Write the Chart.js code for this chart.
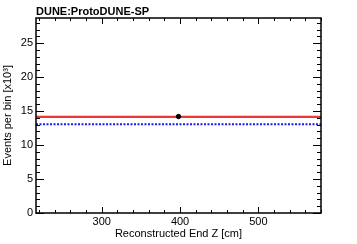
<!DOCTYPE html>
<html>
<head>
<meta charset="utf-8">
<script src="https://cdn.jsdelivr.net/npm/chart.js@4.4.1/dist/chart.umd.min.js"></script>
<style>
  html, body { margin: 0; padding: 0; background: #fff; }
  #wrap { width: 357px; height: 244px; position: relative; }
</style>
</head>
<body>
<div id="wrap"><canvas id="chart_endZ"></canvas></div>
<script>
// bin edges of the (single-bin) histogram, in cm
var binEdges = [216, 580];
// MC total prediction, events per bin [x10^3]
var mcTotal = [14.15];
// MC selected-signal prediction
var mcSignal = [13.05];
// data point (bin centre, value)
var dataX = [398];
var dataY = [14.2];

var xMajor = [300, 400, 500];
var yMajor = [0, 5, 10, 15, 20, 25];

function stepLine(edges, vals) {
    var pts = [];
    for (var i = 0; i < vals.length; i++) {
        pts.push({ x: edges[i], y: vals[i] });
        pts.push({ x: edges[i + 1], y: vals[i] });
    }
    return pts;
}

var FONT = 'Liberation Sans, Arial, Helvetica, sans-serif';

var chart_endZ = new Chart(document.getElementById('chart_endZ'), {
    type: 'line',
    data: {
        datasets: [
            {
                label: 'Data',
                type: 'scatter',
                data: dataX.map(function (x, i) { return { x: x, y: dataY[i] }; }),
                backgroundColor: '#000',
                borderColor: '#000',
                pointRadius: 2.2,
                pointStyle: 'circle',
                order: 0
            },
            {
                label: 'MC total',
                data: stepLine(binEdges, mcTotal),
                borderColor: '#ef3535',
                borderWidth: 2.2,
                pointRadius: 0,
                fill: false,
                order: 1
            },
            {
                label: 'MC signal',
                data: stepLine(binEdges, mcSignal),
                borderColor: '#1a1aff',
                borderWidth: 2,
                borderDash: [2, 1.5],
                pointRadius: 0,
                fill: false,
                order: 2
            }
        ]
    },
    options: {
        animation: false,
        responsive: true,
        maintainAspectRatio: false,
        layout: { padding: { top: 18, right: 36, left: 0, bottom: 0 } },
        plugins: {
            legend: { display: false },
            title: { display: false },
            tooltip: { enabled: false }
        },
        scales: {
            x: {
                type: 'linear',
                min: binEdges[0],
                max: binEdges[binEdges.length - 1],
                grid: { display: false, drawTicks: false, tickLength: 0 },
                border: { display: false },
                afterFit: function (s) { s.height = 31; },
                afterBuildTicks: function (s) { s.ticks = xMajor.map(function (v) { return { value: v }; }); },
                ticks: { color: '#000', font: { family: FONT, size: 11 }, padding: 2, maxRotation: 0 },
                title: {
                    display: true,
                    text: 'Reconstructed End Z [cm]',
                    color: '#000',
                    font: { family: FONT, size: 11 },
                    padding: { top: 0, bottom: 3 }
                }
            },
            y: {
                type: 'linear',
                min: 0,
                max: 28.7,
                grid: { display: false, drawTicks: false, tickLength: 0 },
                border: { display: false },
                afterFit: function (s) { s.width = 36; },
                afterBuildTicks: function (s) { s.ticks = yMajor.map(function (v) { return { value: v }; }); },
                ticks: { color: '#000', font: { family: FONT, size: 11 }, padding: 3 },
                title: {
                    display: true,
                    text: 'Events per bin [x10³]',
                    color: '#000',
                    font: { family: FONT, size: 11 },
                    padding: { top: 1, bottom: 0 }
                }
            }
        }
    },
    plugins: [{
        id: 'rootFrame',
        beforeDraw: function (chart) {
            var ctx = chart.ctx;
            ctx.save();
            ctx.fillStyle = 'white';
            ctx.fillRect(0, 0, chart.width, chart.height);
            ctx.restore();
        },
        afterDraw: function (chart) {
            var ctx = chart.ctx, a = chart.chartArea;
            var xs = chart.scales.x, ys = chart.scales.y;
            ctx.save();
            ctx.strokeStyle = '#000';
            ctx.lineWidth = 1;
            ctx.beginPath();
            // x ticks, bottom and top, inward
            for (var v = 220; v <= 580; v += 20) {
                var px = Math.round(xs.getPixelForValue(v)) + 0.5;
                var len = (v % 100 === 0) ? 6 : 3;
                ctx.moveTo(px, a.bottom); ctx.lineTo(px, a.bottom - len);
                ctx.moveTo(px, a.top); ctx.lineTo(px, a.top + len);
            }
            // y ticks, left and right, inward
            for (var w = 0; w <= 28; w += 1) {
                var py = Math.round(ys.getPixelForValue(w)) + 0.5;
                var l = (w % 5 === 0) ? 8 : 4;
                ctx.moveTo(a.left, py); ctx.lineTo(a.left + l, py);
                ctx.moveTo(a.right, py); ctx.lineTo(a.right - l, py);
            }
            ctx.stroke();
            ctx.lineWidth = 1.5;
            ctx.strokeRect(a.left, a.top, a.right - a.left, a.bottom - a.top);
            // plot label
            ctx.fillStyle = '#000';
            ctx.font = 'bold 11px ' + FONT;
            ctx.textBaseline = 'alphabetic';
            ctx.textAlign = 'left';
            ctx.fillText('DUNE:ProtoDUNE-SP', a.left, 15);
            ctx.restore();
        }
    }]
});
</script>
</body>
</html>
